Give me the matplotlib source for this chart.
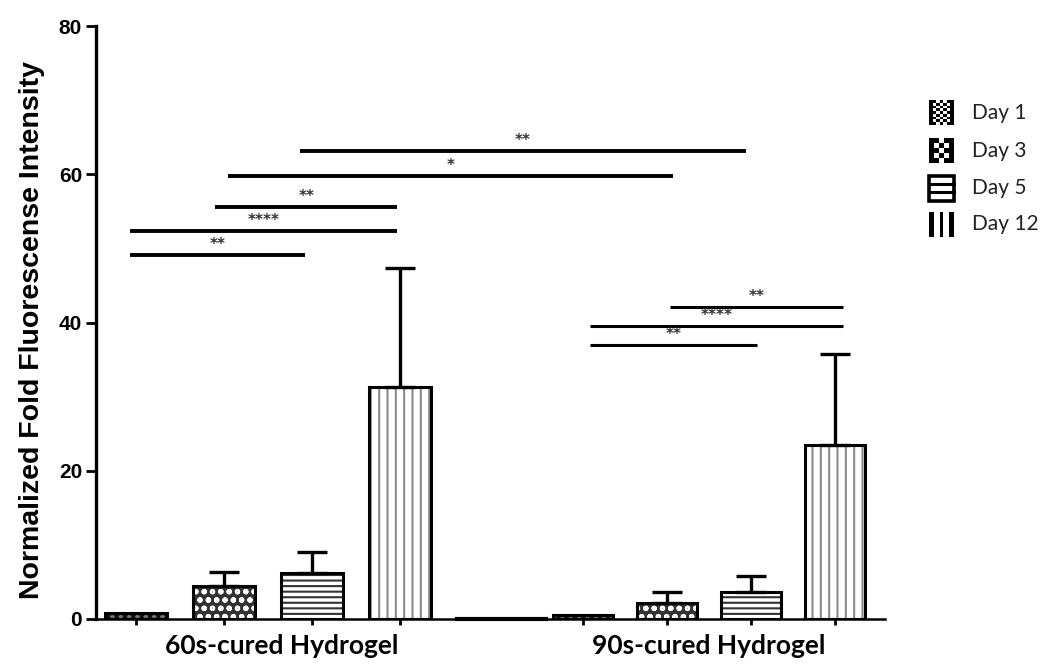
import matplotlib
matplotlib.use("Agg")
import matplotlib.pyplot as plt
import numpy as np
from matplotlib.patches import Rectangle

# ---- data ----
groups = ["60s-cured Hydrogel", "90s-cured Hydrogel"]
days = ["Day 1", "Day 3", "Day 5", "Day 12"]
means_60 = [0.8, 4.4, 6.2, 31.3]
err_60 = [0.0, 1.9, 2.85, 16.1]
means_90 = [0.55, 2.2, 3.7, 23.5]
err_90 = [0.0, 1.5, 2.1, 12.3]
yticks = [0, 20, 40, 60, 80]

# significance brackets: (x_start, x_end, y, label)
sig_60 = [(-0.07, 1.92, 49.1, "**"), (-0.07, 2.97, 52.4, "****"), (0.9, 2.97, 55.6, "**")]
sig_cross = [(1.05, 6.1, 59.8, "*"), (1.86, 6.93, 63.2, "**")]
sig_90 = [(6.07, 8.03, 42.1, "**"), (5.16, 8.03, 39.5, "****"), (5.16, 7.06, 37.0, "**")]

# ---- styles ----
hatches = ["xxxx", "oo", "---", "||"]
hatch_cols = ["#111111", "white", "#333333", "#8a8a8a"]
face_cols = ["#777777", "#333333", "white", "white"]

plt.rcParams["hatch.linewidth"] = 1.5

fig = plt.figure(figsize=(10.5, 6.65), dpi=100)
ax = fig.add_axes([96/1050, 1-619/665, (885-96)/1050, (619-26)/665])

pos_60 = np.arange(4)
pos_90 = 5.08 + np.arange(4) * 0.955
w60, w90 = 0.7, 0.68

def draw_group(pos, means, errs, w):
    for i, (x, m, e) in enumerate(zip(pos, means, errs)):
        ax.bar(x, m, width=w, color=face_cols[i], edgecolor=hatch_cols[i],
               hatch=hatches[i], linewidth=0, zorder=2)
        ax.bar(x, m, width=w, fill=False, edgecolor="black", linewidth=2.2, zorder=3)
        if e > 0:
            ax.errorbar(x, m, yerr=[[0], [e]], fmt="none", ecolor="black",
                        elinewidth=2.4, capsize=11, capthick=2.4, zorder=4)

draw_group(pos_60, means_60, err_60, w60)
draw_group(pos_90, means_90, err_90, w90)

# spacer bar between groups
ax.plot([(455-136)/88, (548-136)/88], [0, 0], color="black", lw=3, zorder=3,
        solid_capstyle="butt", clip_on=False)

def draw_sig(lst, lw):
    for x1, x2, y, lab in lst:
        ax.plot([x1, x2], [y, y], color="black", lw=lw, solid_capstyle="butt", zorder=5)
        ax.text((x1 + x2) / 2, y + 0.4, lab, ha="center", va="bottom",
                fontsize=11, color="#333333", fontweight="bold", zorder=5)

draw_sig(sig_60, 2.8)
draw_sig(sig_cross, 2.8)
draw_sig(sig_90, 2.2)

ax.set_xlim(-40/88, (885-136)/88)
ax.set_ylim(0, 80)
ax.set_yticks(yticks)
ax.set_yticklabels([str(t) for t in yticks], fontfamily="Liberation Sans",
                   fontweight="bold", fontsize=15)
ax.set_xticks(list(pos_60) + list(pos_90))
ax.set_xticklabels([])
ax.tick_params(axis="y", direction="out", length=7, width=2, pad=3)
ax.tick_params(axis="x", direction="out", length=4, width=2)
for s in ["top", "right"]:
    ax.spines[s].set_visible(False)
ax.spines["left"].set_linewidth(2.4)
ax.spines["bottom"].set_linewidth(1.8)

ax.set_ylabel("Normalized Fold Fluorescense Intensity", fontfamily="Liberation Sans",
              fontweight="bold", fontsize=20.5)
ax.yaxis.set_label_coords((45-96)/789, 0.487)

label_shift = [0.16, 0.0]
for lab, pos, sh in zip(groups, [pos_60, pos_90], label_shift):
    ax.text(pos.mean() + sh, -3.65, lab, ha="center", va="center", fontfamily="Lato",
            fontweight="bold", fontsize=19, clip_on=False)

# ---- legend (drawn manually in pixel coordinates) ----
lax = fig.add_axes([915/1050, 1-245/665, 135/1050, 150/665])
lax.axis("off")
row_y = [113, 151, 188, 224]
hx0, hx1, hh = 929, 954, 25

checker_fine = (np.indices((9, 7)).sum(axis=0) % 2).astype(float)
checker_fine[:, 0] = 1
checker_fine[:, -1] = 1
checker_big = np.array([[1, 1, 0, 1, 1],
                        [1, 0, 1, 0, 1],
                        [1, 1, 0, 1, 1],
                        [1, 0, 1, 0, 1],
                        [1, 1, 0, 1, 1]], dtype=float)
for pat, yc in zip([checker_fine, checker_big], row_y[:2]):
    lax.imshow(pat, cmap="gray_r", vmin=0, vmax=1.0, interpolation="nearest",
               extent=[hx0, hx1, yc + hh/2, yc - hh/2], aspect="auto", zorder=2)
# Day 5: box with horizontal lines
yc = row_y[2]
lax.add_patch(Rectangle((hx0, yc - hh/2), hx1 - hx0, hh, fill=False,
                        edgecolor="black", linewidth=2.6))
for f in [1/3, 2/3]:
    lax.plot([hx0, hx1], [yc - hh/2 + f*hh]*2, color="black", lw=2.2)
# Day 12: three vertical bars
yc = row_y[3]
for xb, wb in [(hx0, 5), (hx0 + 11, 2.5), (hx1 - 5, 5)]:
    lax.add_patch(Rectangle((xb, yc - hh/2), wb, hh, color="black", linewidth=0))
lax.set_xlim(915, 1050)
lax.set_ylim(245, 95)
for lab, yc in zip(days, row_y):
    lax.text(972, yc, lab, ha="left", va="center", fontfamily="Lato",
             fontsize=15, color="#222222")

fig.savefig("out.png", dpi=100)
